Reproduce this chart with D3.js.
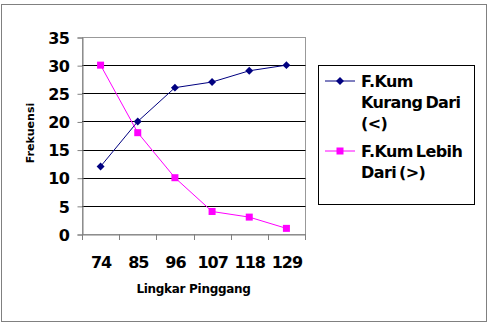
<!DOCTYPE html>
<html>
<meta charset='utf-8'>
<head>
<script src='https://d3js.org/d3.v7.min.js'></script>
<style>
body { margin: 0; background: #fff; }
text { font-family: 'DejaVu Sans', Verdana, sans-serif; font-weight: bold; fill: #000; }
</style>
</head>
<body>
<div id='chart'></div>
<script>
var categories = ['74', '85', '96', '107', '118', '129'];
var kurangDari = [12, 20, 26, 27, 29, 30];
var lebihDari = [30, 18, 10, 4, 3, 1];
var yTicks = [0, 5, 10, 15, 20, 25, 30, 35];
var seriesNames = [['F.Kum', 'Kurang Dari', '(<)'], ['F.Kum Lebih', 'Dari (>)']];

var W = 489, H = 328;
var svg = d3.select('#chart').append('svg')
    .attr('width', W).attr('height', H);

// outer chart border
svg.append('rect')
    .attr('x', 1.5).attr('y', 4.5).attr('width', 485).attr('height', 317)
    .attr('fill', '#fff').attr('stroke', '#808080');

var plot = {left: 82, right: 305, top: 37, bottom: 234};

var x = d3.scaleBand().domain(categories).range([plot.left, plot.right]);
var y = d3.scaleLinear().domain([0, 35]).range([plot.bottom, plot.top]);

// plot area frame
svg.append('rect')
    .attr('x', plot.left + 0.5).attr('y', plot.top + 0.5)
    .attr('width', plot.right - plot.left).attr('height', plot.bottom - plot.top)
    .attr('fill', '#fff').attr('stroke', '#999');

// gridlines
svg.selectAll('.grid').data(yTicks.filter(d => d > 0 && d < 35)).enter()
    .append('line')
    .attr('x1', plot.left).attr('x2', plot.right + 0.5)
    .attr('y1', d => Math.round(y(d)) + 0.5).attr('y2', d => Math.round(y(d)) + 0.5)
    .attr('stroke', '#000');

// y axis
var yAxis = svg.append('g')
    .attr('transform', 'translate(' + (plot.left + 0.5) + ',0.5)')
    .call(d3.axisLeft(y).tickValues(yTicks).tickSize(5).tickPadding(8));
yAxis.select('.domain').attr('stroke', '#808080');
yAxis.selectAll('.tick line').attr('stroke', '#808080');
yAxis.selectAll('text').style('font-size', '16px').style('letter-spacing', '-0.5px').attr('dy', '0.36em');

// x axis
var xAxis = svg.append('g')
    .attr('transform', 'translate(0.5,' + (plot.bottom + 0.5) + ')')
    .call(d3.axisBottom(x).tickSize(0).tickPadding(22));
xAxis.select('.domain').attr('stroke', '#808080');
xAxis.selectAll('text').style('font-size', '16px').style('letter-spacing', '-1px');
// category boundary ticks
svg.selectAll('.xb').data(categories.concat(['end'])).enter()
    .append('line')
    .attr('x1', (d, i) => Math.round(plot.left + i * x.bandwidth()) + 0.5)
    .attr('x2', (d, i) => Math.round(plot.left + i * x.bandwidth()) + 0.5)
    .attr('y1', plot.bottom).attr('y2', plot.bottom + 6)
    .attr('stroke', '#808080');

// axis titles
svg.append('text')
    .attr('x', (plot.left + plot.right) / 2).attr('y', 293)
    .attr('text-anchor', 'middle').style('font-size', '12px').style('letter-spacing', '-0.3px')
    .text('Lingkar Pinggang');
svg.append('text')
    .attr('transform', 'translate(34,133) rotate(-90)')
    .attr('text-anchor', 'middle').style('font-size', '11px')
    .text('Frekuensi');

var cx = d => x(d) + x.bandwidth() / 2;
var line = d3.line().x(d => cx(d.c)).y(d => y(d.v));

var s1 = categories.map((c, i) => ({c: c, v: kurangDari[i]}));
var s2 = categories.map((c, i) => ({c: c, v: lebihDari[i]}));

svg.append('path').datum(s1).attr('d', line)
    .attr('fill', 'none').attr('stroke', '#000080').attr('stroke-width', 1);
svg.append('path').datum(s2).attr('d', line)
    .attr('fill', 'none').attr('stroke', '#ff00ff').attr('stroke-width', 1);

var diamond = d3.symbol().type(d3.symbolDiamond2).size(40);
svg.selectAll('.m1').data(s1).enter().append('path')
    .attr('d', diamond)
    .attr('transform', d => 'translate(' + cx(d.c) + ',' + y(d.v) + ')')
    .attr('fill', '#000080');
svg.selectAll('.m2').data(s2).enter().append('rect')
    .attr('x', d => cx(d.c) - 3.5).attr('y', d => y(d.v) - 3.5)
    .attr('width', 7).attr('height', 7)
    .attr('fill', '#ff00ff');

// legend
var lg = svg.append('g');
lg.append('rect')
    .attr('x', 318.5).attr('y', 65.5).attr('width', 156).attr('height', 139)
    .attr('fill', '#fff').attr('stroke', '#000');

var legendItems = [
  {name: seriesNames[0], color: '#000080', y: 81, marker: 'diamond'},
  {name: seriesNames[1], color: '#ff00ff', y: 151, marker: 'square'}
];
legendItems.forEach(function(it) {
  lg.append('line').attr('x1', 325).attr('x2', 355)
    .attr('y1', it.y).attr('y2', it.y).attr('stroke', it.color);
  if (it.marker === 'diamond') {
    lg.append('path').attr('d', diamond)
      .attr('transform', 'translate(340,' + it.y + ')').attr('fill', it.color);
  } else {
    lg.append('rect').attr('x', 336.5).attr('y', it.y - 3.5)
      .attr('width', 7).attr('height', 7).attr('fill', it.color);
  }
  var t = lg.append('text').attr('x', 361).attr('y', it.y)
    .style('font-size', '16px').style('letter-spacing', '-0.6px').style('word-spacing', '-2px');
  it.name.forEach(function(s, i) {
    t.append('tspan').attr('x', 361).attr('y', it.y + i * 21).attr('dy', '0.36em').text(s);
  });
});
</script>
</body>
</html>
